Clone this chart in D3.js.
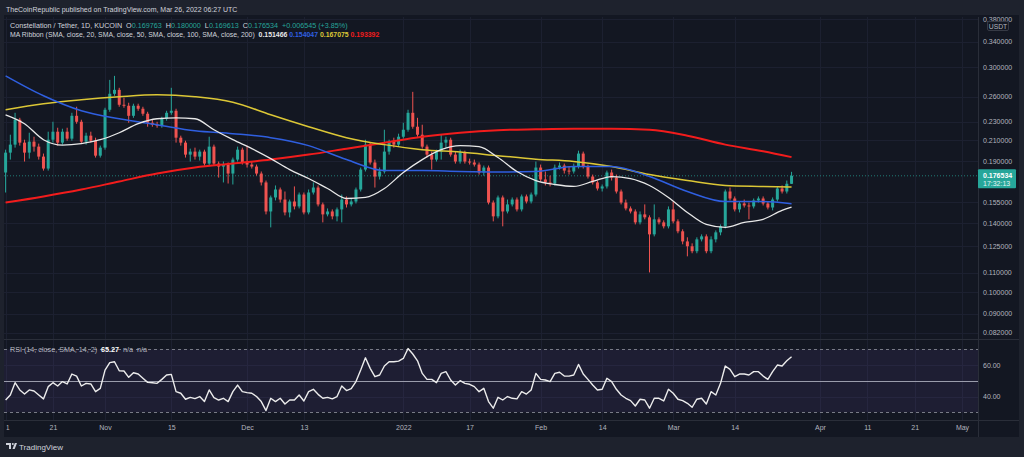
<!DOCTYPE html>
<html>
<head>
<meta charset="utf-8">
<script src="https://cdn.jsdelivr.net/npm/d3@7/dist/d3.min.js"></script>
<style>
    html, body { margin: 0; padding: 0; background: #1e222d; }
    svg { display: block; font-family: "Liberation Sans", Arial, sans-serif; }
</style>
</head>
<body>
<div id="chart"></div>
<script>
// first candle of the series, one candle per day after it
var firstDay = "2021-10-11";

var openPrices = [
    .1794, .1977, .2056, .2322, .2076, .1977, .2086, .2036, .1939, .1829,
    .2106, .2190, .2076, .2190, .2117, .2367, .2299, .2086, .2148, .2096,
    .1948, .2026, .2438, .2636, .2687, .2498, .2486, .2367, .2486, .2450,
    .2391, .2288, .2266, .2255, .2333, .2402, .2426, .2127, .2076, .1958,
    .1987, .1939, .1987, .1874, .2036, .1874, .1847, .1865, .1785, .1911,
    .2006, .1884, .1865, .1847, .1785, .1709, .1483, .1588, .1651, .1572,
    .1476, .1557, .1520, .1611, .1476, .1627, .1667, .1535, .1462, .1483,
    .1448, .1498, .1572, .1535, .1557, .1651, .1820, .2056, .1884, .1759,
    .1803, .1987, .2086, .2056, .2137, .2211, .2402, .2244, .2158, .2036,
    .1958, .1911, .1987, .2076, .2106, .1958, .1893, .1977, .1893, .1884,
    .1865, .1794, .1838, .1549, .1448, .1588, .1483, .1535, .1572, .1498,
    .1596, .1557, .1611, .1838, .1734, .1709, .1700, .1838, .1856, .1811,
    .1803, .1847, .1968, .1847, .1759, .1709, .1659, .1676, .1794, .1750,
    .1635, .1549, .1505, .1483, .1406, .1462, .1441, .1326, .1427, .1406,
    .1379, .1498, .1413, .1346, .1281, .1251, .1221, .1294, .1313, .1221,
    .1294, .1339, .1379, .1635, .1580, .1498, .1542, .1527, .1520, .1565,
    .1580, .1542, .1512, .1572, .1659, .1635, .169763
];
var highPrices = [
    .2006, .2158, .2402, .2344, .2106, .2179, .2137, .2066, .1968, .2190,
    .2299, .2233, .2222, .2233, .2402, .2474, .2322, .2179, .2190, .2127,
    .2046, .2462, .2821, .2877, .2714, .2585, .2523, .2511, .2511, .2474,
    .2414, .2322, .2299, .2356, .2426, .2714, .2450, .2148, .2096, .2016,
    .2026, .2006, .2006, .2137, .2056, .1893, .1893, .1884, .1930, .2036,
    .2026, .2046, .1893, .1865, .1803, .1725, .1603, .1684, .1667, .1635,
    .1572, .1676, .1627, .1627, .1651, .1709, .1684, .1549, .1505, .1498,
    .1512, .1611, .1596, .1580, .1667, .1838, .2106, .2076, .1911, .1838,
    .2211, .2106, .2127, .2169, .2288, .2438, .2661, .2344, .2266, .2056,
    .1987, .2006, .2158, .2137, .2127, .1987, .2006, .1996, .1920, .1911,
    .1884, .1856, .1856, .1565, .1603, .1603, .1572, .1588, .1588, .1611,
    .1611, .1627, .1893, .1865, .1803, .1767, .1865, .1884, .1874, .1847,
    .1874, .1996, .1987, .1865, .1776, .1725, .1692, .1811, .1820, .1776,
    .1651, .1572, .1520, .1498, .1483, .1535, .1455, .1535, .1441, .1420,
    .1520, .1557, .1427, .1359, .1307, .1269, .1307, .1326, .1326, .1313,
    .1352, .1392, .1651, .1667, .1596, .1557, .1572, .1549, .1580, .1596,
    .1596, .1557, .1588, .1676, .1684, .1725, .180000
];
var lowPrices = [
    .1627, .1911, .2026, .2046, .1893, .1920, .1987, .1911, .1811, .1811,
    .2076, .2046, .2056, .2096, .2096, .2277, .2066, .2056, .2076, .1930,
    .1930, .2006, .2414, .2610, .2474, .2462, .2288, .2344, .2426, .2367,
    .2244, .2244, .2233, .2233, .2311, .2379, .2076, .2046, .1930, .1893,
    .1911, .1902, .1856, .1856, .1856, .1750, .1709, .1700, .1692, .1893,
    .1865, .1838, .1829, .1767, .1684, .1462, .1372, .1565, .1549, .1455,
    .1441, .1498, .1505, .1462, .1462, .1611, .1520, .1406, .1448, .1427,
    .1413, .1406, .1512, .1520, .1542, .1635, .1803, .1865, .1667, .1734,
    .1785, .1958, .2026, .2036, .2117, .2190, .2222, .2137, .2016, .1930,
    .1820, .1893, .1911, .2026, .1939, .1874, .1874, .1874, .1865, .1847,
    .1776, .1767, .1535, .1413, .1434, .1379, .1469, .1520, .1483, .1483,
    .1542, .1542, .1596, .1717, .1684, .1676, .1684, .1820, .1785, .1776,
    .1785, .1829, .1829, .1742, .1692, .1643, .1635, .1659, .1725, .1619,
    .1535, .1491, .1469, .1392, .1392, .1427, .1101, .1313, .1392, .1365,
    .1365, .1399, .1333, .1263, .1191, .1209, .1209, .1281, .1209, .1209,
    .1275, .1320, .1365, .1565, .1483, .1476, .1512, .1427, .1505, .1549,
    .1527, .1498, .1491, .1557, .1619, .1619, .169613
];
var closePrices = [
    .1977, .2056, .2322, .2076, .1977, .2086, .2036, .1939, .1829, .2106,
    .2190, .2076, .2190, .2117, .2367, .2299, .2086, .2148, .2096, .1948,
    .2026, .2438, .2636, .2687, .2498, .2486, .2367, .2486, .2450, .2391,
    .2288, .2266, .2255, .2333, .2402, .2426, .2127, .2076, .1958, .1987,
    .1939, .1987, .1874, .2036, .1874, .1847, .1865, .1785, .1911, .2006,
    .1884, .1865, .1847, .1785, .1709, .1483, .1588, .1651, .1572, .1476,
    .1557, .1520, .1611, .1476, .1627, .1667, .1535, .1462, .1483, .1448,
    .1498, .1572, .1535, .1557, .1651, .1820, .2056, .1884, .1759, .1803,
    .1987, .2086, .2056, .2137, .2211, .2402, .2244, .2158, .2036, .1958,
    .1911, .1987, .2076, .2106, .1958, .1893, .1977, .1893, .1884, .1865,
    .1794, .1838, .1549, .1448, .1588, .1483, .1535, .1572, .1498, .1596,
    .1557, .1611, .1838, .1734, .1709, .1700, .1838, .1856, .1811, .1803,
    .1847, .1968, .1847, .1759, .1709, .1659, .1676, .1794, .1750, .1635,
    .1549, .1505, .1483, .1406, .1462, .1441, .1326, .1427, .1406, .1379,
    .1498, .1413, .1346, .1281, .1251, .1221, .1294, .1313, .1221, .1294,
    .1339, .1379, .1635, .1580, .1498, .1542, .1527, .1520, .1565, .1580,
    .1542, .1512, .1572, .1659, .1635, .1698, .176534
];

// moving averages at some of the days
var sma20Days = [0, 4, 8, 12, 16, 20, 24, 28, 32, 36, 40, 44, 48, 52, 56, 60, 64, 68, 72, 76, 80,
    84, 88, 92, 96, 100, 104, 108, 112, 116, 120, 124, 128, 132, 136, 140, 144, 148, 152, 156, 160, 164, 166];
var sma20Values = [.2379, .2277, .2106, .2051, .2066, .2106, .2179, .2277, .2333, .2344, .2333,
    .2211, .2106, .2016, .1920, .1820, .1742, .1659, .1580, .1588, .1659, .1794, .1911, .2006, .2046,
    .2036, .1930, .1803, .1725, .1692, .1676, .1717, .1759, .1742, .1684, .1588, .1476, .1392, .1372,
    .1406, .1427, .1491, .151466];
var maDays = [0, 8, 16, 24, 32, 40, 48, 56, 64, 72, 80, 88, 96, 104, 112, 120, 128, 136, 144, 152, 160, 166];
var sma50Values = [.2877, .2610, .2426, .2333, .2266, .2200, .2169, .2127, .2046, .1911, .1811,
    .1811, .1803, .1799, .1803, .1847, .1847, .1759, .1635, .1557, .1557, .154047];
var sma100Values = [.2438, .2511, .2560, .2598, .2623, .2598, .2530, .2379, .2244, .2127, .2056,
    .2006, .1982, .1948, .1915, .1893, .1847, .1776, .1725, .1684, .1676, .167075];
var sma200Values = [.1549, .1596, .1651, .1717, .1785, .1838, .1874, .1911, .1958, .2016, .2076,
    .2137, .2179, .2206, .2216, .2222, .2222, .2211, .2148, .2056, .1991, .193392];

var rsiValues = [
    37.8, 41.0, 48.8, 44.2, 41.6, 44.2, 43.5, 41.0, 38.5, 46.3,
    48.8, 46.7, 49.5, 48.0, 54.3, 53.0, 46.7, 48.4, 48.0, 43.1,
    45.2, 56.8, 61.5, 62.1, 56.4, 56.2, 52.2, 55.1, 54.3, 51.6,
    49.0, 48.8, 48.4, 50.9, 53.7, 54.1, 43.1, 42.1, 38.3, 39.5,
    38.7, 40.0, 36.8, 44.2, 39.3, 37.8, 38.9, 36.8, 43.1, 47.3,
    43.1, 42.5, 42.1, 40.0, 36.8, 31.1, 38.9, 36.8, 38.9, 35.3,
    37.8, 37.8, 41.0, 37.2, 43.1, 44.6, 41.4, 38.9, 39.5, 38.5,
    40.0, 46.7, 43.8, 45.0, 49.5, 56.8, 64.6, 57.9, 52.6, 53.7,
    59.4, 62.1, 62.1, 62.5, 64.2, 70.5, 67.0, 62.7, 54.7, 50.9,
    50.9, 48.8, 54.7, 55.8, 50.5, 47.3, 50.1, 48.4, 47.8, 46.3,
    43.1, 45.2, 36.8, 32.6, 39.5, 37.8, 40.0, 38.9, 38.5, 43.1,
    41.6, 44.2, 54.7, 50.9, 50.5, 49.5, 54.7, 55.4, 53.0, 53.0,
    53.7, 60.4, 54.3, 50.9, 47.3, 44.2, 44.6, 51.6, 49.5, 44.6,
    41.0, 38.9, 37.4, 34.0, 38.3, 37.8, 32.6, 38.9, 38.9, 37.2,
    44.6, 42.1, 38.3, 37.4, 35.7, 33.2, 38.3, 38.9, 35.3, 43.1,
    41.0, 48.4, 59.4, 57.3, 52.6, 54.3, 54.3, 53.7, 55.8, 55.8,
    53.0, 50.9, 55.8, 60.0, 59.4, 62.7, 65.27
];

var priceTicks = [0.38, 0.34, 0.30, 0.26, 0.23, 0.21, 0.19, 0.155, 0.14, 0.125, 0.11, 0.10, 0.09, 0.082];
var rsiTicks = [60, 40];
var rsiLevels = [70, 50, 30];
var timeTicks = ["2021-10-11", "2021-10-21", "2021-11-01", "2021-11-15", "2021-12-01", "2021-12-13",
    "2022-01-03", "2022-01-17", "2022-02-01", "2022-02-14", "2022-03-01", "2022-03-14", "2022-04-01",
    "2022-04-11", "2022-04-21", "2022-05-01"];
var timeLabels = ["11", "21", "Nov", "15", "Dec", "13", "2022", "17", "Feb", "14", "Mar", "14", "Apr", "11", "21", "May"];
var lastPrice = 0.176534;

var app = app || {};

app.Chart = (function () {
    var self;

    // pixel layout of the snapshot
    var L = {
        width: 1024, height: 457,
        left: 4, right: 1019, top: 15, bottom: 437,
        plotRight: 978,
        priceBottom: 339, rsiTop: 340, rsiBottom: 420
    };

    var colors = {
        outer: "#1e222d", panel: "#131722", grid: "#1c2030", border: "#2a2e39",
        text: "#b2b5be", title: "#d1d4dc",
        up: "#26a69a", down: "#ef5350",
        sma20: "#e8e8e8", sma50: "#2f5fe0", sma100: "#dcc736", sma200: "#f21c1c",
        rsi: "#ececec", band: "#7e57c2", level: "#787b86"
    };

    function Chart(elementID) {
        self = this;
        this.root = d3.select("#" + elementID);
        var parse = d3.utcParse("%Y-%m-%d");
        var start = parse(firstDay);

        this.days = closePrices.map(function (c, i) { return d3.utcDay.offset(start, i); });
        this.candles = closePrices.map(function (c, i) {
            return {date: self.days[i], open: openPrices[i], high: highPrices[i], low: lowPrices[i], close: c};
        });
        this.tickDates = timeTicks.map(parse);

        this.x = d3.scaleUtc()
            .domain([parse("2021-10-11"), parse("2022-05-01")])
            .range([5.6, 962]);
        this.y = d3.scaleLog().domain([0.082, 0.34]).range([332.7, 41.7]);
        this.yRsi = d3.scaleLinear().domain([30, 70]).range([412.3, 349.3]);

        this.redraw();
    }

    var p = Chart.prototype;

    p.redraw = function () {
        self.root.html("");
        self.svg = self.root.append("svg")
            .attr("width", L.width)
            .attr("height", L.height);

        self.drawFrame();
        self.drawGrid();
        self.drawCandles();
        self.drawRibbon();
        self.drawRsi();
        self.drawAxes();
        self.drawLegend();
    };

    p.drawFrame = function () {
        var s = self.svg;
        var defs = s.append("defs");

        s.append("rect").attr("width", L.width).attr("height", L.height).attr("fill", colors.outer);
        s.append("rect")
            .attr("x", L.left).attr("y", L.top)
            .attr("width", L.right - L.left).attr("height", L.bottom - L.top)
            .attr("fill", colors.panel);

        defs.append("clipPath").attr("id", "clipPrice").append("rect")
            .attr("x", L.left).attr("y", L.top)
            .attr("width", L.plotRight - L.left).attr("height", L.priceBottom - L.top);
        defs.append("clipPath").attr("id", "clipRsi").append("rect")
            .attr("x", L.left).attr("y", L.rsiTop)
            .attr("width", L.plotRight - L.left).attr("height", L.rsiBottom - L.rsiTop);
        defs.append("clipPath").attr("id", "clipPanel").append("rect")
            .attr("x", L.left).attr("y", L.top + 2)
            .attr("width", L.right - L.left).attr("height", L.bottom - L.top - 2);
        // the first date label is cut by the left edge of the pane
        defs.append("clipPath").attr("id", "clipTime").append("rect")
            .attr("x", 6.5).attr("y", L.rsiBottom)
            .attr("width", L.plotRight - 6.5).attr("height", L.bottom - L.rsiBottom);

        // header line above the chart
        s.append("text")
            .attr("x", 6).attr("y", 11.5)
            .attr("fill", colors.title)
            .attr("font-size", 7)
            .text("TheCoinRepublic published on TradingView.com, Mar 26, 2022 06:27 UTC");

        // footer logo
        var logo = s.append("g").attr("transform", "translate(6,443)");
        logo.append("path").attr("d", "M0,0h5v6h-2v-4h-3z").attr("fill", colors.title);
        logo.append("circle").attr("cx", 6.8).attr("cy", 1).attr("r", 1).attr("fill", colors.title);
        logo.append("path").attr("d", "M6.5,6l2.3,-6h2.2l-2.3,6z").attr("fill", colors.title);
        s.append("text")
            .attr("x", 19).attr("y", 449.5)
            .attr("fill", colors.title)
            .attr("font-size", 8)
            .text("TradingView");
    };

    p.drawGrid = function () {
        var g = self.svg.append("g").attr("clip-path", "url(#clipPanel)");

        g.selectAll("line.hgrid").data(priceTicks).enter().append("line")
            .attr("x1", L.left).attr("x2", L.plotRight)
            .attr("y1", function (d) { return Math.round(self.y(d)) + 0.5; })
            .attr("y2", function (d) { return Math.round(self.y(d)) + 0.5; })
            .attr("stroke", colors.grid);

        g.selectAll("line.rgrid").data(rsiTicks).enter().append("line")
            .attr("x1", L.left).attr("x2", L.plotRight)
            .attr("y1", function (d) { return Math.round(self.yRsi(d)) + 0.5; })
            .attr("y2", function (d) { return Math.round(self.yRsi(d)) + 0.5; })
            .attr("stroke", colors.grid);

        g.selectAll("line.vgrid").data(self.tickDates).enter().append("line")
            .attr("x1", function (d) { return Math.round(self.x(d)) + 0.5; })
            .attr("x2", function (d) { return Math.round(self.x(d)) + 0.5; })
            .attr("y1", L.top).attr("y2", L.rsiBottom)
            .attr("stroke", colors.grid);

        // pane separators
        g.append("line").attr("x1", L.left).attr("x2", L.right)
            .attr("y1", L.priceBottom + 0.5).attr("y2", L.priceBottom + 0.5).attr("stroke", colors.border);
        g.append("line").attr("x1", L.left).attr("x2", L.right)
            .attr("y1", L.rsiBottom + 0.5).attr("y2", L.rsiBottom + 0.5).attr("stroke", colors.border);
        g.append("line").attr("x1", L.plotRight + 0.5).attr("x2", L.plotRight + 0.5)
            .attr("y1", L.top).attr("y2", L.bottom).attr("stroke", colors.border);
    };

    p.drawCandles = function () {
        var g = self.svg.append("g").attr("clip-path", "url(#clipPrice)"),
            bodyWidth = 3;

        // dotted line at the last price
        g.append("line")
            .attr("x1", L.left).attr("x2", L.plotRight)
            .attr("y1", self.y(lastPrice)).attr("y2", self.y(lastPrice))
            .attr("stroke", colors.up).attr("stroke-opacity", 0.7)
            .attr("stroke-dasharray", "1,2");

        var c = g.selectAll("g.candle").data(self.candles).enter().append("g")
            .attr("fill", function (d) { return d.close >= d.open ? colors.up : colors.down; })
            .attr("stroke", function (d) { return d.close >= d.open ? colors.up : colors.down; });

        c.append("line")
            .attr("x1", function (d) { return self.x(d.date); })
            .attr("x2", function (d) { return self.x(d.date); })
            .attr("y1", function (d) { return self.y(d.high); })
            .attr("y2", function (d) { return self.y(d.low); })
            .attr("stroke-width", 1);

        c.append("rect")
            .attr("stroke", "none")
            .attr("x", function (d) { return self.x(d.date) - bodyWidth / 2; })
            .attr("width", bodyWidth)
            .attr("y", function (d) { return self.y(Math.max(d.open, d.close)); })
            .attr("height", function (d) {
                return Math.max(1, Math.abs(self.y(d.open) - self.y(d.close)));
            });
    };

    p.drawRibbon = function () {
        var g = self.svg.append("g").attr("clip-path", "url(#clipPrice)");
        var line = d3.line()
            .x(function (d) { return self.x(self.days[d[0]]); })
            .y(function (d) { return self.y(d[1]); })
            .curve(d3.curveMonotoneX);

        function series(days, values) {
            return days.map(function (d, i) { return [d, values[i]]; });
        }

        var lines = [
            {pts: series(maDays, sma200Values), color: colors.sma200, width: 2},
            {pts: series(maDays, sma100Values), color: colors.sma100, width: 1.5},
            {pts: series(maDays, sma50Values), color: colors.sma50, width: 1.5},
            {pts: series(sma20Days, sma20Values), color: colors.sma20, width: 1.3}
        ];

        g.selectAll("path.ma").data(lines).enter().append("path")
            .attr("fill", "none")
            .attr("stroke", function (d) { return d.color; })
            .attr("stroke-width", function (d) { return d.width; })
            .attr("d", function (d) { return line(d.pts); });
    };

    p.drawRsi = function () {
        var g = self.svg.append("g").attr("clip-path", "url(#clipRsi)");

        g.append("rect")
            .attr("x", L.left).attr("width", L.plotRight - L.left)
            .attr("y", self.yRsi(70)).attr("height", self.yRsi(30) - self.yRsi(70))
            .attr("fill", colors.band).attr("fill-opacity", 0.11);

        g.selectAll("line.level").data(rsiLevels).enter().append("line")
            .attr("x1", L.left).attr("x2", L.plotRight)
            .attr("y1", function (d) { return Math.round(self.yRsi(d)) + 0.5; })
            .attr("y2", function (d) { return Math.round(self.yRsi(d)) + 0.5; })
            .attr("stroke", function (d) { return d === 50 ? "#9a9cab" : colors.level; })
            .attr("stroke-dasharray", function (d) { return d === 50 ? null : "3,3"; });

        var line = d3.line()
            .x(function (d, i) { return self.x(self.days[i]); })
            .y(function (d) { return self.yRsi(d); });

        g.append("path")
            .datum(rsiValues)
            .attr("fill", "none")
            .attr("stroke", colors.rsi)
            .attr("stroke-width", 1.4)
            .attr("stroke-linejoin", "round")
            .attr("d", line);

        var t = self.svg.append("text")
            .attr("x", 10).attr("y", 351.5)
            .attr("font-size", 7.2)
            .style("white-space", "pre")
            .attr("fill", colors.text);
        t.append("tspan").text("RSI (14, close, SMA, 14, 2)  ");
        t.append("tspan").attr("fill", "#ffffff").attr("font-weight", "bold").text("65.27");
        t.append("tspan").text("  n/a  n/a");
    };

    p.drawAxes = function () {
        var s = self.svg;

        var priceAxis = d3.axisRight(self.y)
            .tickValues(priceTicks)
            .tickFormat(d3.format(".6f"))
            .tickSize(0)
            .tickPadding(5);
        var pa = s.append("g")
            .attr("clip-path", "url(#clipPanel)")
            .append("g")
            .attr("transform", "translate(" + L.plotRight + ",0)")
            .call(priceAxis);

        var rsiAxis = d3.axisRight(self.yRsi)
            .tickValues(rsiTicks)
            .tickFormat(d3.format(".2f"))
            .tickSize(0)
            .tickPadding(5);
        var ra = s.append("g")
            .attr("transform", "translate(" + L.plotRight + ",0)")
            .call(rsiAxis);

        var timeAxis = d3.axisBottom(self.x)
            .tickValues(self.tickDates)
            .tickFormat(function (d, i) { return timeLabels[i]; })
            .tickSize(0)
            .tickPadding(5);
        var ta = s.append("g")
            .attr("clip-path", "url(#clipTime)")
            .append("g")
            .attr("transform", "translate(0," + L.rsiBottom + ")")
            .call(timeAxis);

        [pa, ra, ta].forEach(function (a) {
            a.select(".domain").remove();
            a.selectAll("text")
                .attr("fill", colors.text)
                .attr("font-size", 7)
                .attr("font-family", "Liberation Sans, Arial, sans-serif");
        });

        // currency badge
        s.append("rect")
            .attr("x", 987.5).attr("y", 21.5).attr("width", 21).attr("height", 9).attr("rx", 1.5)
            .attr("fill", colors.panel).attr("stroke", "#363a45");
        s.append("text")
            .attr("x", 998).attr("y", 28.5)
            .attr("text-anchor", "middle")
            .attr("font-size", 6.8)
            .attr("fill", colors.text)
            .text("USDT");

        // last price badge
        var yLast = self.y(lastPrice);
        s.append("rect")
            .attr("x", L.plotRight).attr("y", yLast - 6.5)
            .attr("width", 38).attr("height", 19).attr("rx", 1)
            .attr("fill", colors.up);
        s.append("text")
            .attr("x", L.plotRight + 5).attr("y", yLast + 2.3)
            .attr("font-size", 7).attr("font-weight", "bold")
            .attr("fill", "#ffffff")
            .text(d3.format(".6f")(lastPrice));
        s.append("text")
            .attr("x", L.plotRight + 5).attr("y", yLast + 10.5)
            .attr("font-size", 7)
            .attr("fill", "#e6f4f2")
            .text("17:32:13");
    };

    p.drawLegend = function () {
        var s = self.svg,
            green = colors.up;

        var t1 = s.append("text")
            .attr("x", 10).attr("y", 27.5)
            .attr("font-size", 7.2)
            .style("white-space", "pre")
            .attr("fill", colors.title);
        t1.append("tspan").text("Constellation / Tether, 1D, KUCOIN  O");
        t1.append("tspan").attr("fill", green).text("0.169763");
        t1.append("tspan").text("  H");
        t1.append("tspan").attr("fill", green).text("0.180000");
        t1.append("tspan").text("  L");
        t1.append("tspan").attr("fill", green).text("0.169613");
        t1.append("tspan").text("  C");
        t1.append("tspan").attr("fill", green).text("0.176534");
        t1.append("tspan").attr("fill", green).text("  +0.006545 (+3.85%)");

        var t2 = s.append("text")
            .attr("x", 10).attr("y", 36.5)
            .attr("font-size", 6.9)
            .style("white-space", "pre")
            .attr("fill", colors.title);
        t2.append("tspan").text("MA Ribbon (SMA, close, 20, SMA, close, 50, SMA, close, 100, SMA, close, 200)  ");
        [["0.151466", colors.sma20], ["0.154047", colors.sma50], ["0.167075", colors.sma100], ["0.193392", colors.sma200]]
            .forEach(function (v, i) {
                t2.append("tspan")
                    .attr("fill", v[1])
                    .attr("font-weight", "bold")
                    .text((i ? " " : "") + v[0]);
            });
    };

    return Chart;
}());

new app.Chart("chart");
</script>
</body>
</html>
